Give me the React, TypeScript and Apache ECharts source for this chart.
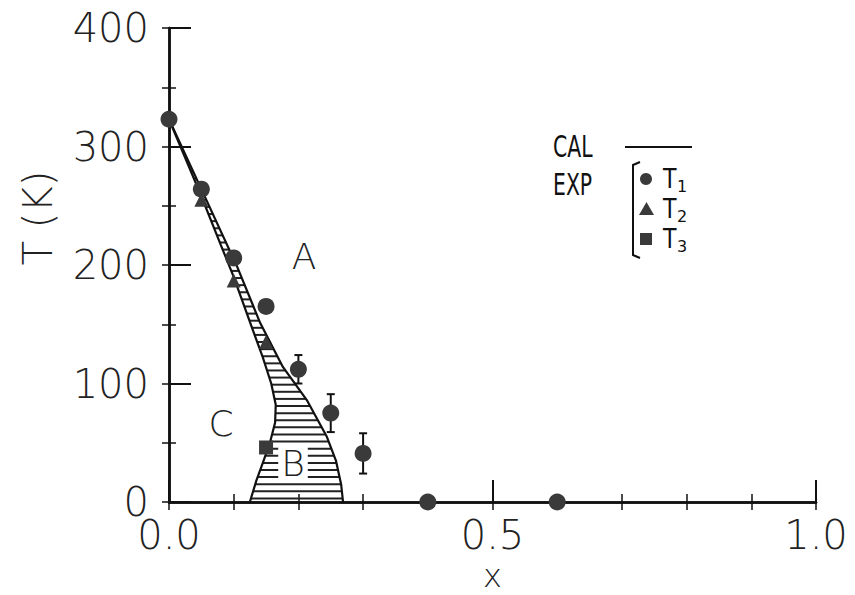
import React, { useEffect, useRef } from "react";
import * as echarts from "echarts";

// ---- data ----
const t1X = [0, 0.05, 0.1, 0.15, 0.2, 0.25, 0.3, 0.4, 0.6];
const t1T = [323, 264, 206, 165, 112, 75, 41, 0, 0];
const t1Err = [0, 0, 0, 0, 12, 16, 17, 0, 0];
const t2X = [0.05, 0.1, 0.15];
const t2T = [255, 187, 135];
const t3X = [0.15];
const t3T = [46];
// CAL curves (x, T) ordered by decreasing T
const calUpperX = [0, 0.05, 0.105, 0.141, 0.176, 0.213, 0.244, 0.258, 0.266, 0.269];
const calUpperT = [323, 264, 199, 151, 114, 86, 55, 35, 15, 0];
const calLowerX = [0, 0.05, 0.08, 0.1, 0.125, 0.145, 0.158, 0.165, 0.164, 0.156, 0.145, 0.135, 0.125];
const calLowerT = [323, 258, 217, 190, 152, 122, 100, 82, 67, 50, 33, 18, 0];
const xLabels = ["0.0", "0.5", "1.0"];

const FONT = "'DejaVu Sans', sans-serif";

function interpX(xs: number[], ts: number[], T: number): number {
  for (let i = 0; i < xs.length - 1; i++) {
    if (T <= ts[i] && T >= ts[i + 1]) {
      const f = (ts[i] - T) / (ts[i] - ts[i + 1] || 1);
      return xs[i] + f * (xs[i + 1] - xs[i]);
    }
  }
  return xs[xs.length - 1];
}

export default function App() {
  const ref = useRef<HTMLDivElement>(null);
  useEffect(() => {
    if (!ref.current) return;
    const chart = echarts.init(ref.current, undefined, { renderer: "svg" });

    const hatch: number[][] = [];
    for (let T = 3; T < 320; T += 6) {
      hatch.push([interpX(calLowerX, calLowerT, T), interpX(calUpperX, calUpperT, T), T]);
    }

    const axisLine = { show: true, lineStyle: { color: "#111", width: 2.5 } };
    const labelStyle = { fontFamily: FONT, fontSize: 40, color: "#222", fontWeight: 200 as any };

    const option: any = {
      animation: false,
      backgroundColor: "#fff",
      grid: { left: 169, right: 39, top: 28, bottom: 93, containLabel: false, outerBoundsMode: "none" },
      xAxis: [
        {
          type: "value", min: 0, max: 1, interval: 0.5, position: "bottom",
          axisLine,
          axisTick: { show: true, inside: true, length: 22, lineStyle: { color: "#111", width: 2 } },
          minorTick: { show: true, splitNumber: 5, length: 8, lineStyle: { color: "#111", width: 1.5 } },
          splitLine: { show: false },
          axisLabel: {
            ...labelStyle, margin: 18, lineHeight: 30,
            formatter: (v: number) => xLabels[Math.round(v * 2)] ?? "",
          },
          name: "x", nameLocation: "middle", nameGap: 58,
          nameTextStyle: { fontFamily: FONT, fontSize: 32, color: "#222", fontWeight: 200 },
        },
        {
          type: "value", min: 0, max: 1, interval: 0.1, position: "top",
          axisLine,
          axisTick: { show: true, inside: true, length: 8, lineStyle: { color: "#111", width: 1.5 } },
          axisLabel: { show: false }, splitLine: { show: false },
        },
      ],
      yAxis: [
        {
          type: "value", min: 0, max: 400, interval: 100, position: "left",
          axisLine,
          axisTick: { show: true, inside: true, length: 22, lineStyle: { color: "#111", width: 2 } },
          minorTick: { show: true, splitNumber: 2, length: 7, lineStyle: { color: "#111", width: 1.5 } },
          splitLine: { show: false },
          axisLabel: {
            ...labelStyle, margin: 20, lineHeight: 30,
            formatter: (v: number) => (v === 0 ? "{z|0}" : String(v)),
            rich: { z: { fontFamily: FONT, fontSize: 40, color: "#222", lineHeight: 24 } },
          },
        },
        {
          type: "value", min: 0, max: 400, interval: 50, position: "right",
          axisLine,
          axisTick: { show: true, inside: true, length: 7, lineStyle: { color: "#111", width: 1.5 } },
          axisLabel: { show: false }, splitLine: { show: false },
        },
      ],
      series: [
        {
          type: "custom", name: "hatch", xAxisIndex: 0, yAxisIndex: 0,
          data: hatch, silent: true, z: 1,
          renderItem: (params: any, api: any) => {
            const p1 = api.coord([api.value(0), api.value(2)]);
            const p2 = api.coord([api.value(1), api.value(2)]);
            return {
              type: "line",
              shape: { x1: p1[0], y1: p1[1], x2: p2[0], y2: p2[1] },
              style: { stroke: "#222", lineWidth: 2 },
            };
          },
        },
        {
          type: "line", name: "CAL upper", data: calUpperX.map((x, i) => [x, calUpperT[i]]),
          symbol: "none", lineStyle: { color: "#111", width: 2.2 }, z: 2,
        },
        {
          type: "line", name: "CAL lower", data: calLowerX.map((x, i) => [x, calLowerT[i]]),
          symbol: "none", lineStyle: { color: "#111", width: 2.2 }, z: 2,
        },
        {
          type: "custom", name: "err", clip: false,
          data: t1X.map((x, i) => [x, t1T[i], t1Err[i]]).filter((d) => d[2] > 0),
          z: 3,
          renderItem: (params: any, api: any) => {
            const x = api.value(0), t = api.value(1), e = api.value(2);
            const top = api.coord([x, t + e]);
            const bot = api.coord([x, t - e]);
            const w = 4;
            return {
              type: "group",
              children: [
                { type: "line", shape: { x1: top[0], y1: top[1], x2: bot[0], y2: bot[1] }, style: { stroke: "#111", lineWidth: 2 } },
                { type: "line", shape: { x1: top[0] - w, y1: top[1], x2: top[0] + w, y2: top[1] }, style: { stroke: "#111", lineWidth: 2 } },
                { type: "line", shape: { x1: bot[0] - w, y1: bot[1], x2: bot[0] + w, y2: bot[1] }, style: { stroke: "#111", lineWidth: 2 } },
              ],
            };
          },
        },
        {
          type: "scatter", name: "T1", data: t1X.map((x, i) => [x, t1T[i]]), clip: false,
          symbol: "circle", symbolSize: 17, itemStyle: { color: "#3a3a3a", opacity: 1 }, z: 4,
        },
        {
          type: "scatter", name: "T2", data: t2X.map((x, i) => [x, t2T[i]]), clip: false,
          symbol: "triangle", symbolSize: 14, itemStyle: { color: "#3a3a3a", opacity: 1 }, z: 4,
        },
        {
          type: "scatter", name: "T3", data: t3X.map((x, i) => [x, t3T[i]]), clip: false,
          symbol: "rect", symbolSize: 14, itemStyle: { color: "#3a3a3a", opacity: 1 }, z: 4,
        },
      ],
      graphic: [
        {
          type: "text", x: 38, y: 218, rotation: Math.PI / 2,
          style: { text: "T (K)", fontFamily: FONT, fontSize: 40, fontWeight: 200, fill: "#222", align: "center", verticalAlign: "middle" },
        },
        { type: "text", x: 304, y: 256, style: { text: "A", fontFamily: FONT, fontSize: 36, fontWeight: 200, fill: "#222", align: "center", verticalAlign: "middle" } },
        { type: "text", x: 221, y: 423, style: { text: "C", fontFamily: FONT, fontSize: 36, fontWeight: 200, fill: "#222", align: "center", verticalAlign: "middle" } },
        {
          type: "text", x: 293, y: 463, z: 100,
          style: { text: "B", fontFamily: FONT, fontSize: 36, fontWeight: 200, fill: "#222", align: "center", verticalAlign: "middle", backgroundColor: "#fff", padding: [0, 3, 0, 3] },
        },
        // legend
        { type: "text", x: 553, y: 146, scaleX: 0.68, style: { text: "CAL", fontFamily: FONT, fontSize: 30, fill: "#111", align: "left", verticalAlign: "middle" } },
        { type: "line", shape: { x1: 625, y1: 147, x2: 692, y2: 147 }, style: { stroke: "#111", lineWidth: 2 } },
        { type: "text", x: 553, y: 184, scaleX: 0.68, style: { text: "EXP", fontFamily: FONT, fontSize: 30, fill: "#111", align: "left", verticalAlign: "middle" } },
        { type: "polyline", shape: { points: [[640, 162], [633, 165], [633, 255], [640, 258]] }, style: { stroke: "#111", lineWidth: 2, fill: null } },
        { type: "circle", shape: { cx: 646, cy: 179, r: 6 }, style: { fill: "#3a3a3a" } },
        { type: "polygon", shape: { points: [[639, 215], [654, 215], [646.5, 202]] }, style: { fill: "#3a3a3a" } },
        { type: "rect", shape: { x: 640, y: 233, width: 12, height: 12 }, style: { fill: "#3a3a3a" } },
        { type: "text", x: 663, y: 179, scaleX: 0.85, style: { text: "T", fontFamily: FONT, fontSize: 26, fill: "#111", align: "left", verticalAlign: "middle" } },
        { type: "text", x: 677, y: 186, style: { text: "1", fontFamily: FONT, fontSize: 16, fill: "#111", align: "left", verticalAlign: "middle" } },
        { type: "text", x: 663, y: 209, scaleX: 0.85, style: { text: "T", fontFamily: FONT, fontSize: 26, fill: "#111", align: "left", verticalAlign: "middle" } },
        { type: "text", x: 677, y: 216, style: { text: "2", fontFamily: FONT, fontSize: 16, fill: "#111", align: "left", verticalAlign: "middle" } },
        { type: "text", x: 663, y: 239, scaleX: 0.85, style: { text: "T", fontFamily: FONT, fontSize: 26, fill: "#111", align: "left", verticalAlign: "middle" } },
        { type: "text", x: 677, y: 246, style: { text: "3", fontFamily: FONT, fontSize: 16, fill: "#111", align: "left", verticalAlign: "middle" } },
      ],
    };
    chart.setOption(option);
    return () => chart.dispose();
  }, []);
  return <div ref={ref} style={{ width: 855, height: 595, position: "absolute", left: 0, top: 0 }} />;
}
